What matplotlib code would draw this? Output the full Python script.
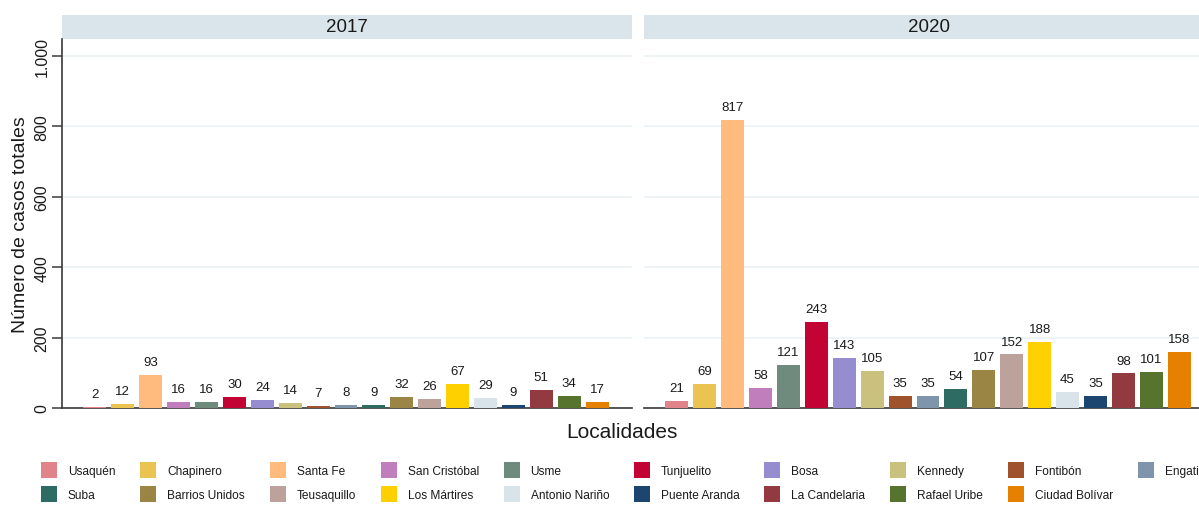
"""
Casos totales por localidad de Bogota, 2017 vs 2020 (paneles tipo Stata).
"""

import matplotlib
matplotlib.use("Agg")
import matplotlib.pyplot as plt
from matplotlib.patches import Patch, Rectangle

plt.rcParams["font.family"] = ["Liberation Sans", "DejaVu Sans"]

LOCALIDADES = [
    "Usaquén", "Chapinero", "Santa Fe", "San Cristóbal", "Usme", "Tunjuelito",
    "Bosa", "Kennedy", "Fontibón", "Engativá", "Suba", "Barrios Unidos",
    "Teusaquillo", "Los Mártires", "Antonio Nariño", "Puente Aranda",
    "La Candelaria", "Rafael Uribe", "Ciudad Bolívar",
]
CASOS_2017 = [2, 12, 93, 16, 16, 30, 24, 14, 7, 8, 9, 32, 26, 67, 29, 9, 51, 34, 17]
CASOS_2020 = [21, 69, 817, 58, 121, 243, 143, 105, 35, 35, 54, 107, 152, 188, 45, 35, 98, 101, 158]
YEARS = ["2017", "2020"]
Y_TICKS = [0, 200, 400, 600, 800, 1000]
Y_TICK_LABELS = ["0", "200", "400", "600", "800", "1.000"]

COLORS = [
    "#e1838a", "#ebc350", "#ffbb7e", "#c07ebd", "#6e8b7d", "#c30334",
    "#958dcf", "#cbc17f", "#a0522d", "#7f95ab", "#2e6b62", "#9a8545",
    "#bda19b", "#ffd000", "#d8e4ea", "#1c4670", "#923a40", "#56742e",
    "#e68000",
]

W, H = 1199, 510
text_color = "#1a1a1a"
grid_color = "#e9f0f2"
axis_color = "#3a3a3a"
strip_color = "#d9e5ea"

fig = plt.figure(figsize=(W / 100, H / 100), dpi=100)
fig.patch.set_facecolor("white")

ax_bottom, ax_top = 409, 40
panel_w = 570
panel_lefts = [62, 644]
x = list(range(len(LOCALIDADES)))

for i, (year, values) in enumerate(zip(YEARS, [CASOS_2017, CASOS_2020])):
    left = panel_lefts[i]
    ax = fig.add_axes([left / W, (H - ax_bottom) / H, panel_w / W, (ax_bottom - ax_top) / H])
    ax.bar(x, values, width=0.82, color=COLORS, edgecolor="none", zorder=3)
    for xi, v in zip(x, values):
        ax.annotate(str(v), (xi, v), xytext=(0, 5), textcoords="offset points",
                    ha="center", va="bottom", fontsize=9.5, color=text_color)

    ax.set_xlim(-1.18, 19.25)
    ax.set_ylim(0, 1048)
    ax.set_yticks(Y_TICKS)
    ax.grid(axis="y", color=grid_color, linewidth=1.1, zorder=0)
    ax.set_xticks([])
    for side in ["top", "right", "left"]:
        ax.spines[side].set_visible(False)
    ax.spines["bottom"].set_color(axis_color)
    ax.spines["bottom"].set_linewidth(1.2)

    if i == 0:
        ax.spines["left"].set_visible(True)
        ax.spines["left"].set_color(axis_color)
        ax.spines["left"].set_linewidth(1.2)
        ax.set_yticklabels(Y_TICK_LABELS, rotation=90, va="center", fontsize=11.5,
                           color=text_color)
        ax.tick_params(axis="y", length=7, width=1.1, color=axis_color, pad=2)
        ax.set_ylabel("Número de casos totales", fontsize=14, color=text_color,
                      labelpad=4)
    else:
        ax.tick_params(axis="y", length=0, labelleft=False)

    # facet strip
    strip_h = 24 / (ax_bottom - ax_top)
    ax.add_patch(Rectangle((0, 1), 1, strip_h, transform=ax.transAxes,
                           facecolor=strip_color, edgecolor="none", clip_on=False))
    ax.text(0.5, 1 + strip_h / 2, year, transform=ax.transAxes, ha="center",
            va="center", fontsize=13.5, color=text_color)

fig.text(622 / W, (H - 433) / H, "Localidades", ha="center", va="center",
         fontsize=15, color=text_color)

# legend: matplotlib fills column-wise, so interleave rows
handles = [Patch(facecolor=c, edgecolor="none") for c in COLORS]
order = []
for col in range(10):
    order.append(col)
    if col + 10 < len(LOCALIDADES):
        order.append(col + 10)
fig.legend(
    [handles[k] for k in order], [LOCALIDADES[k] for k in order],
    ncol=10, loc="upper left", bbox_to_anchor=(41 / W, (H - 463) / H),
    frameon=False, fontsize=8.6, handlelength=1.34, handleheight=1.67,
    handletextpad=0.92, columnspacing=2.07, labelspacing=0.67,
    borderpad=0, borderaxespad=0, labelcolor=text_color,
)

fig.savefig("out.png", dpi=100, facecolor="white")
